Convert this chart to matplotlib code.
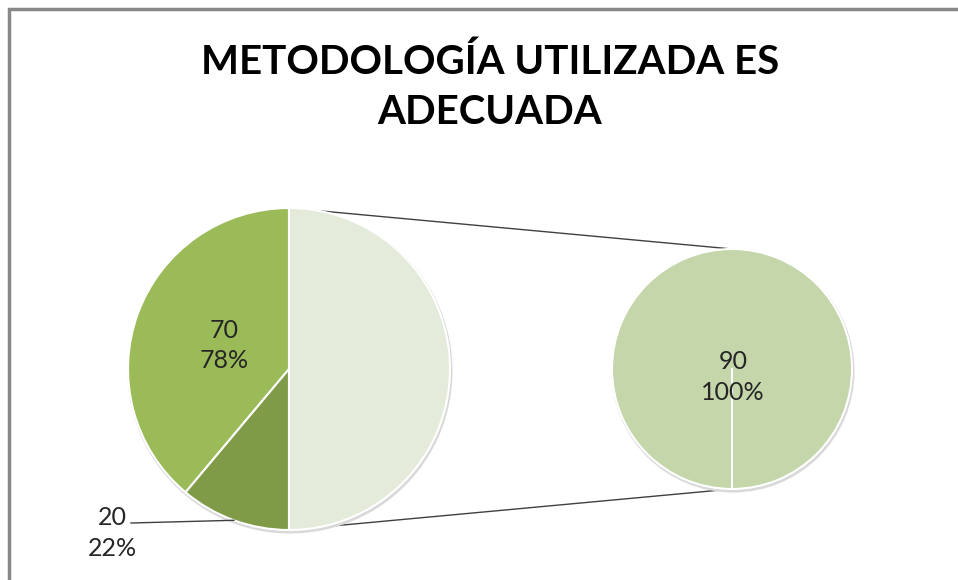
import numpy as np
import matplotlib.pyplot as plt
from matplotlib.patches import Rectangle

# Datos del gráfico (pie de pie)
titulo = 'METODOLOGÍA UTILIZADA ES\nADECUADA'
valores_principal = [70, 20]      # porciones del pie principal
valores_secundario = [90]         # porciones del pie secundario
colores_principal = ['#9BBB59', '#7F9B47']
color_otros = '#E4EBDA'
colores_secundario = ['#C5D6AA']

W, H = 958, 580
fig = plt.figure(figsize=(W / 100, H / 100), dpi=100)
ax = fig.add_axes([0, 0, 1, 1])

# Posiciones en pixeles (y hacia arriba)
c1, r1 = (289, H - 369), 161
c2, r2 = (732, H - 369), 120

otros = sum(valores_secundario)
vals1 = valores_principal + [otros]
total1 = sum(valores_principal)
total2 = sum(valores_secundario)

# Líneas de conexión (debajo de los pies)
ax.plot([c1[0], c2[0]], [c1[1] + r1, c2[1] + r2], color='#404040', lw=1, zorder=1)
ax.plot([c1[0], c2[0]], [c1[1] - r1, c2[1] - r2], color='#404040', lw=1, zorder=1)

# Sombra ligera
for c, r in [(c1, r1), (c2, r2)]:
    ax.add_patch(plt.Circle((c[0] + 1, c[1] - 2), r + 1.5, color='#d9d9d9', zorder=1.5, lw=0))

wedges1, _ = ax.pie(vals1, colors=colores_principal + [color_otros], startangle=90,
                    counterclock=True, center=c1, radius=r1, frame=True,
                    wedgeprops=dict(edgecolor='white', linewidth=1.5, zorder=2))
wedges2, _ = ax.pie(valores_secundario, colors=colores_secundario, startangle=270,
                    center=c2, radius=r2, frame=True,
                    wedgeprops=dict(edgecolor='white', linewidth=1.5, zorder=2))
# borde radial del pie secundario
ax.plot([c2[0], c2[0]], [c2[1], c2[1] - r2], color='white', lw=1.5, zorder=3)

fuente = 'Lato'
col_txt = '#262626'
tam = 18
esp = 1.38

# Etiqueta 70
w = wedges1[0]
ang = np.deg2rad((w.theta1 + w.theta2) / 2)
x = c1[0] + 0.43 * r1 * np.cos(ang)
y = c1[1] + 0.43 * r1 * np.sin(ang)
ax.text(x, y, f'{valores_principal[0]}\n{valores_principal[0] / total1:.0%}', ha='center', va='center',
        fontsize=tam, family=fuente, color=col_txt, linespacing=esp, zorder=4)

# Etiqueta 20 con línea guía
w = wedges1[1]
ang = np.deg2rad((w.theta1 + w.theta2) / 2)
ex = c1[0] + r1 * np.cos(ang)
ey = c1[1] + r1 * np.sin(ang)
ax.plot([131, ex], [H - 523, ey], color='#404040', lw=1, zorder=4)
ax.text(112, H - 533, f'{valores_principal[1]}\n{valores_principal[1] / total1:.0%}', ha='center', va='center',
        fontsize=tam, family=fuente, color=col_txt, linespacing=esp, zorder=4)

# Etiqueta pie secundario
ax.text(c2[0] + 1, c2[1] - 8, f'{valores_secundario[0]}\n{valores_secundario[0] / total2:.0%}',
        ha='center', va='center', fontsize=tam, family=fuente, color=col_txt, linespacing=esp, zorder=4)

# Título
ax.text(490, H - 87, titulo, ha='center', va='center', fontsize=29, fontweight='bold',
        family=fuente, color='black', linespacing=1.42)

# Marco
ax.add_patch(Rectangle((9, -20), W + 20, H - 9 + 20, fill=False, edgecolor='#888888', lw=2.5, zorder=5))

ax.set_xlim(0, W)
ax.set_ylim(0, H)
ax.set_aspect('equal')
ax.axis('off')

fig.savefig('out.png', dpi=100)
